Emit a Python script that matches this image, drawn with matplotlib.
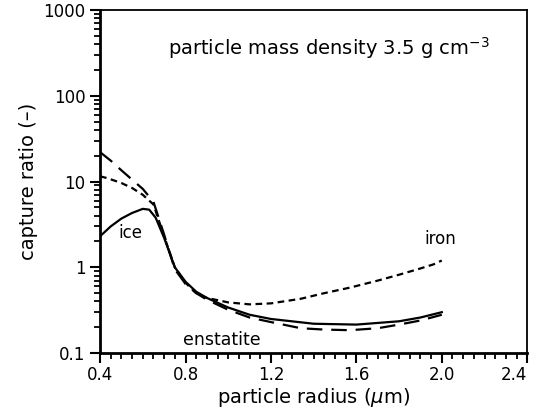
import matplotlib.pyplot as plt
from matplotlib.ticker import LogLocator, NullFormatter, FixedFormatter, FixedLocator, MultipleLocator

# capture ratio vs particle radius (um)
r_ice = [0.40, 0.45, 0.50, 0.55, 0.60, 0.63, 0.66, 0.70, 0.75, 0.80, 0.85, 0.90, 1.00, 1.10, 1.20, 1.40, 1.60, 1.80, 1.90, 2.00]
ice = [2.3, 3.0, 3.7, 4.3, 4.8, 4.7, 3.8, 2.2, 1.0, 0.68, 0.52, 0.44, 0.34, 0.28, 0.25, 0.22, 0.215, 0.235, 0.26, 0.30]

r_iron = [0.40, 0.43, 0.46, 0.50, 0.55, 0.60, 0.65, 0.70, 0.75, 0.80, 0.85, 0.90, 1.00, 1.10, 1.20, 1.34, 1.45, 1.57, 1.70, 1.80, 1.90, 1.96, 2.00]
iron = [11.5, 11.0, 10.4, 9.6, 8.4, 7.0, 5.4, 2.3, 1.0, 0.66, 0.50, 0.44, 0.39, 0.37, 0.38, 0.43, 0.50, 0.58, 0.70, 0.82, 0.97, 1.08, 1.20]

r_ens = [0.40, 0.45, 0.50, 0.55, 0.60, 0.65, 0.70, 0.75, 0.80, 0.85, 0.90, 1.00, 1.10, 1.20, 1.34, 1.45, 1.57, 1.70, 1.80, 1.90, 2.00]
enstatite = [22.0, 17.5, 13.5, 10.5, 8.2, 5.8, 2.4, 0.95, 0.64, 0.50, 0.42, 0.32, 0.26, 0.23, 0.195, 0.188, 0.185, 0.195, 0.215, 0.24, 0.28]

x_ticks = [0.4, 0.8, 1.2, 1.6, 2.0, 2.4]
x_labels = ['0.4', '0.8', '1.2', '1.6', '2.0', '2.4']
y_ticks = [0.1, 1, 10, 100, 1000]
y_labels = ['0.1', '1', '10', '100', '1000']

fig = plt.figure(figsize=(5.38, 4.13), dpi=100)
ax = fig.add_axes([0.186, 0.145, 0.794, 0.831])

ax.plot(r_ice, ice, color='black', lw=1.6, ls='-')
ax.plot(r_iron, iron, color='black', lw=1.6, ls=(0, (3, 2)))
ax.plot(r_ens, enstatite, color='black', lw=1.6, ls=(0, (7, 4)))

ax.set_yscale('log')
ax.set_xlim(0.4, 2.4)
ax.set_ylim(0.1, 1000)

ax.xaxis.set_major_locator(FixedLocator(x_ticks))
ax.xaxis.set_major_formatter(FixedFormatter(x_labels))
ax.xaxis.set_minor_locator(MultipleLocator(0.05))
ax.yaxis.set_major_locator(FixedLocator(y_ticks))
ax.yaxis.set_major_formatter(FixedFormatter(y_labels))
ax.yaxis.set_minor_locator(LogLocator(base=10, subs=range(2, 10)))
ax.yaxis.set_minor_formatter(NullFormatter())

ax.tick_params(which='major', direction='out', length=7, width=1.5, labelsize=12)
ax.tick_params(which='minor', direction='out', length=4, width=1.3)
ax.tick_params(axis='x', pad=2)
# keep the last x label inside the figure
ax.get_xticklabels()[-1].set_horizontalalignment('right')
ax.get_xticklabels()[-1].set_x(2.4)
for s in ax.spines.values():
    s.set_linewidth(1.3)
ax.spines['left'].set_linewidth(2)
ax.spines['bottom'].set_linewidth(2)

ax.set_xlabel('particle radius ($\\mu$m)', fontsize=14, labelpad=2)
ax.set_ylabel('capture ratio (–)', fontsize=14)

ax.text(0.16, 0.87, 'particle mass density 3.5 g cm$^{-3}$', transform=ax.transAxes, fontsize=14)
ax.text(0.485, 2.2, 'ice', fontsize=12)
ax.text(0.79, 0.125, 'enstatite', fontsize=12.5)
ax.text(1.92, 1.85, 'iron', fontsize=12)

fig.savefig('out.png', dpi=100)
